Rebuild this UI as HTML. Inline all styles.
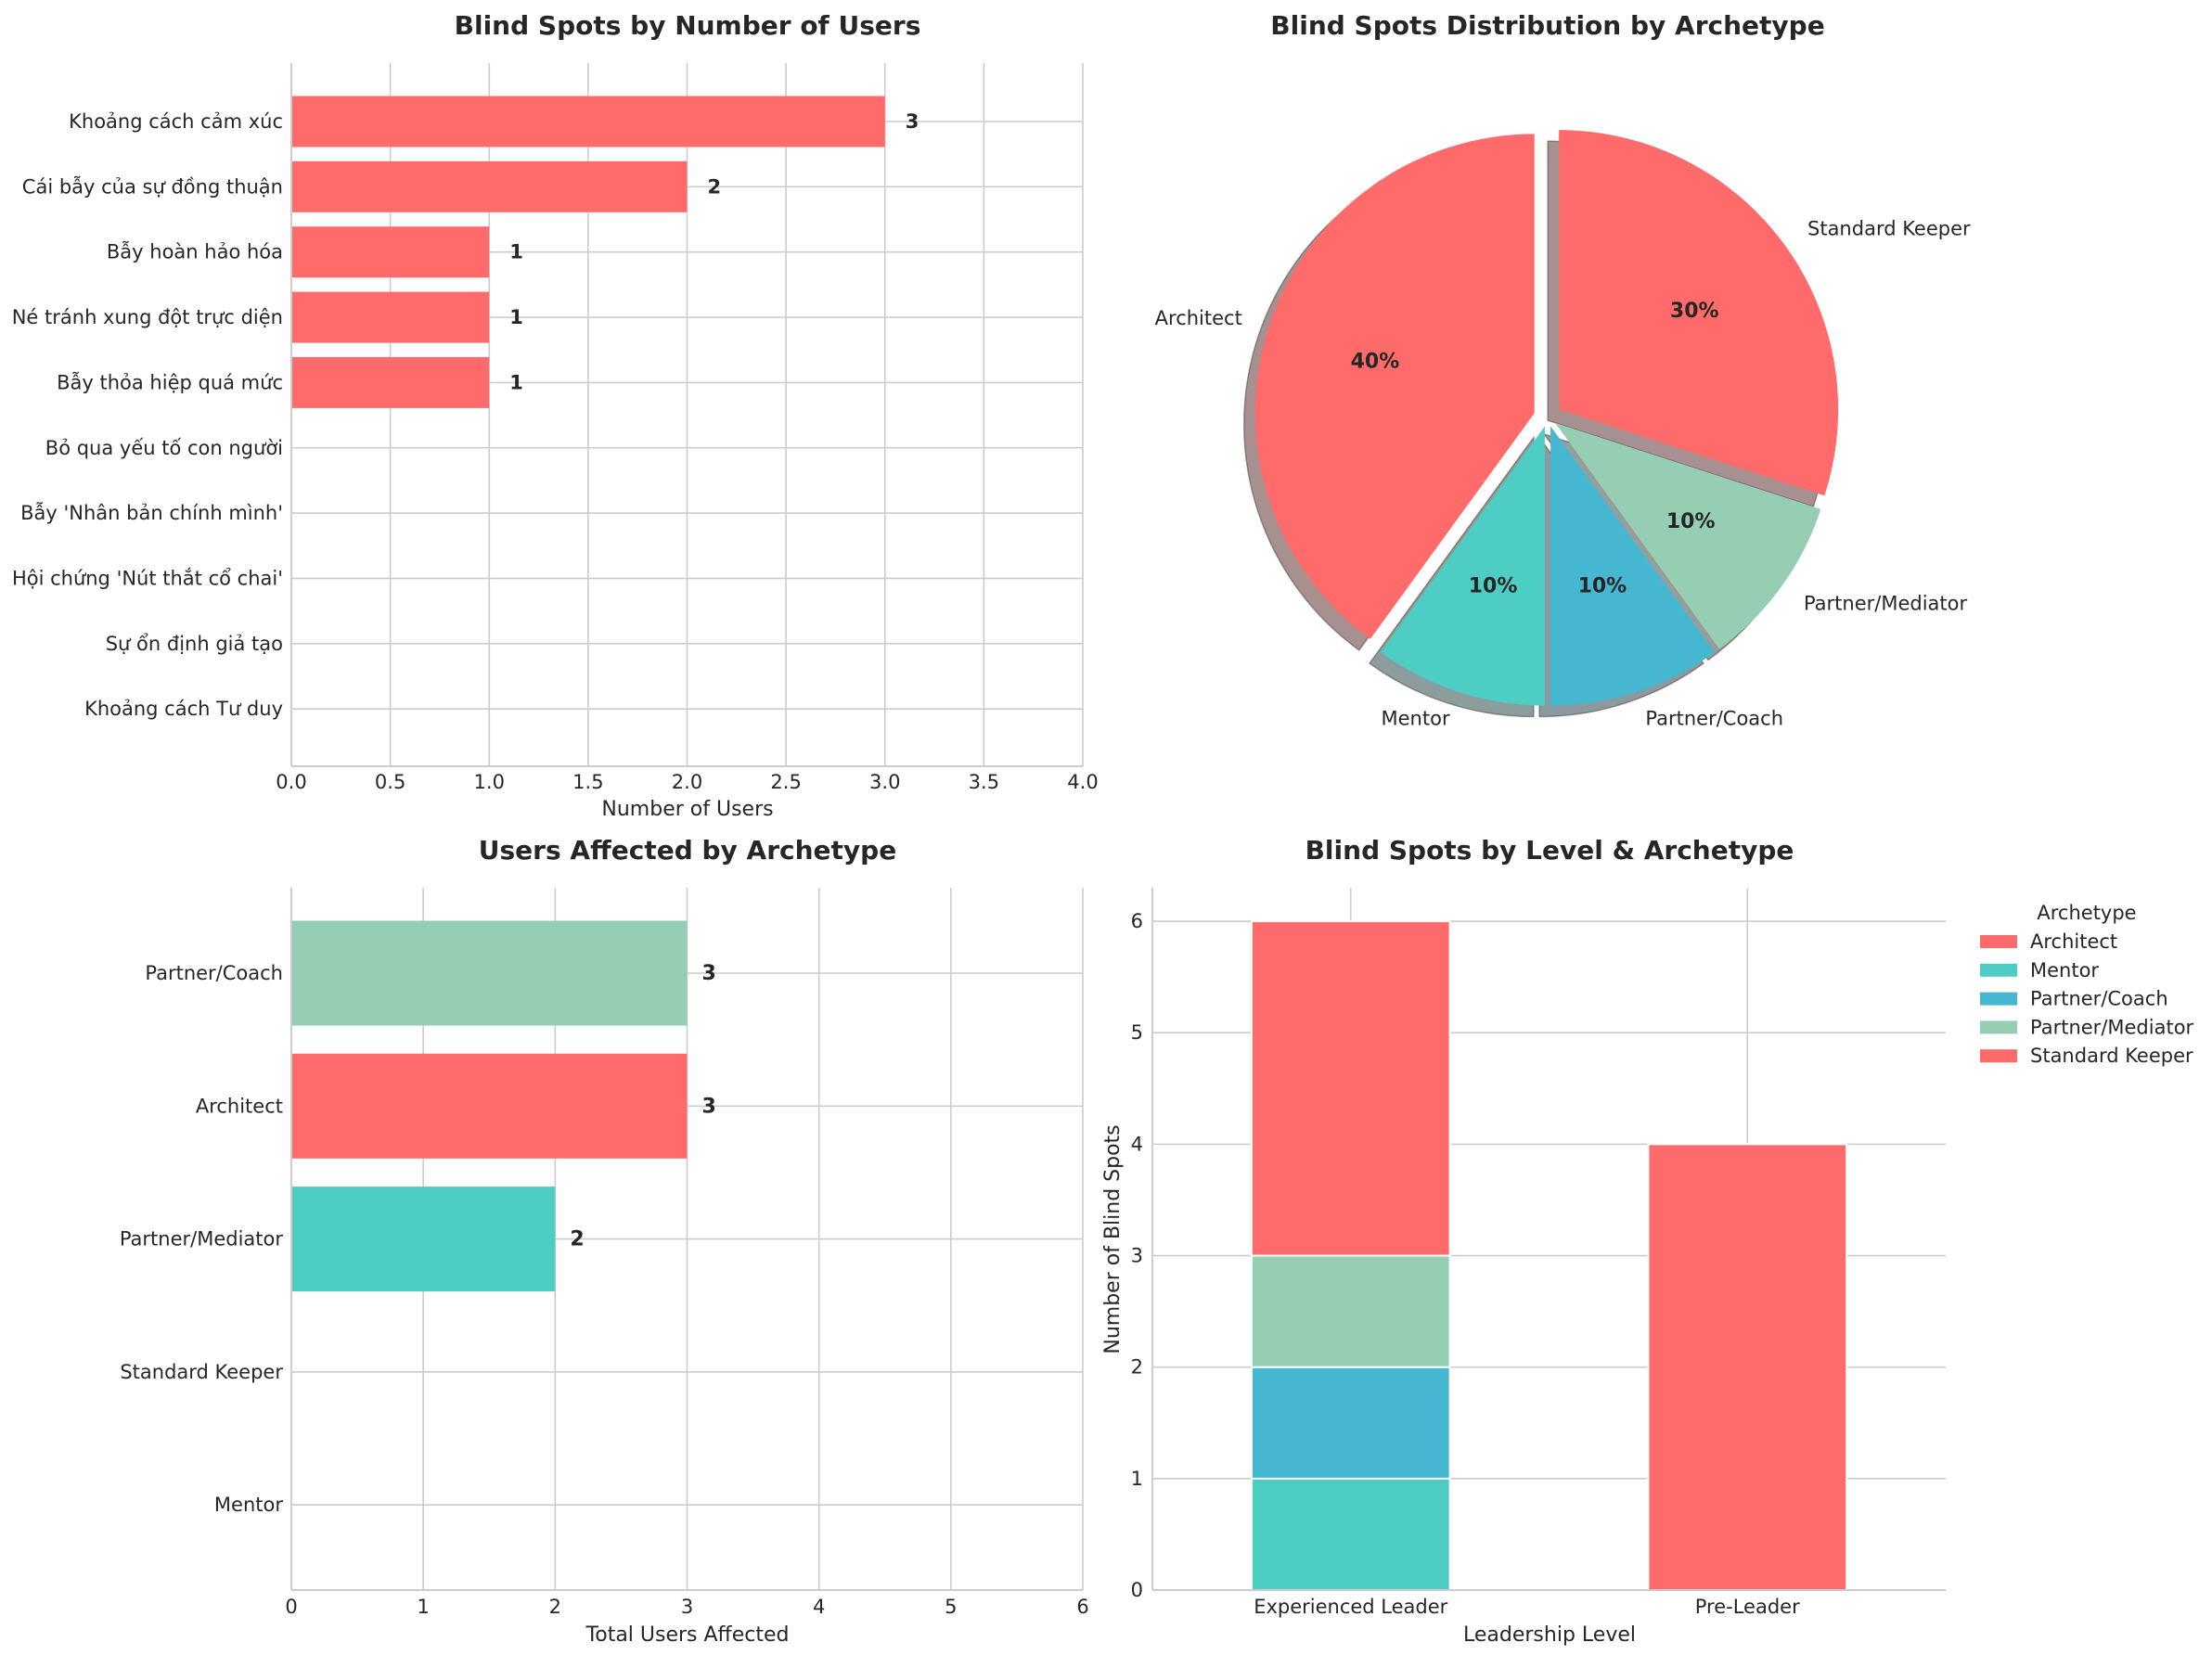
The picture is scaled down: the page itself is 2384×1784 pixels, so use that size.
<!DOCTYPE html>
<html><head><meta charset="utf-8"><style>
html,body{margin:0;padding:0;background:#fff}
svg{display:block;font-family:"DejaVu Sans","Liberation Sans","Noto Sans CJK SC",sans-serif}
</style></head><body>
<svg id="fig" width="2384" height="1784" viewBox="0 0 2384 1784" xmlns="http://www.w3.org/2000/svg"></svg>
<script>
// Chart 1 data
const c1Categories = ["Khoảng cách cảm xúc","Cái bẫy của sự đồng thuận","Bẫy hoàn hảo hóa","Né tránh xung đột trực diện","Bẫy thỏa hiệp quá mức","Bỏ qua yếu tố con người","Bẫy 'Nhân bản chính mình'","Hội chứng 'Nút thắt cổ chai'","Sự ổn định giả tạo","Khoảng cách Tư duy"];
const c1Values = [3,2,1,1,1,0,0,0,0,0];
const c1Ticks = [0,0.5,1,1.5,2,2.5,3,3.5,4];
const c1TickLabels = ["0.0","0.5","1.0","1.5","2.0","2.5","3.0","3.5","4.0"];
// Chart 2 data
const c2Labels = ["Architect","Mentor","Partner/Coach","Partner/Mediator","Standard Keeper"];
const c2Values = [40,10,10,10,30];
const c2Colors = ["#FF6B6B","#4ECDC4","#45B7D1","#96CEB4","#FF6B6B"];
const c2Explode = [15,10,10,10,15];
// Chart 3 data
const c3Categories = ["Partner/Coach","Architect","Partner/Mediator","Standard Keeper","Mentor"];
const c3Values = [3,3,2,0,0];
const c3Colors = ["#96CEB4","#FF6B6B","#4ECDC4","#45B7D1","#FF6B6B"];
const c3Ticks = [0,1,2,3,4,5,6];
// Chart 4 data
const c4Levels = ["Experienced Leader","Pre-Leader"];
const c4Series = ["Architect","Mentor","Partner/Coach","Partner/Mediator","Standard Keeper"];
const c4Colors = ["#FF6B6B","#4ECDC4","#45B7D1","#96CEB4","#FF6B6B"];
const c4Architect = [0,4];
const c4Mentor = [1,0];
const c4Coach = [1,0];
const c4Mediator = [1,0];
const c4Keeper = [3,0];
const c4Ticks = [0,1,2,3,4,5,6];

const NS="http://www.w3.org/2000/svg";
const svg=document.getElementById('fig');
const TXT="#262626", GRID="#cccccc";
const FS=21, TFS=28;
function mk(tag,attrs,parent,text){const e=document.createElementNS(NS,tag);for(const k in attrs)e.setAttribute(k,attrs[k]);if(text!==undefined)e.textContent=text;(parent||svg).appendChild(e);return e;}
function grp(name){const g=mk('g',{});return g;}

// ---------- Chart 1 ----------
(function(){
const g=grp('chart-blind-spots-by-users');
const L=314,R=1167,T=68,B=826;
const xs=v=>L+(v/4)*(R-L);
const ys=i=>131+i*70.35;
const bh=55;
const t=mk('text',{x:741,y:37,'text-anchor':'middle','font-size':TFS,'font-weight':'bold',fill:TXT},g,'Blind Spots by Number of Users');

c1Ticks.forEach((v,i)=>{mk('line',{x1:xs(v),x2:xs(v),y1:T,y2:B,stroke:GRID,'stroke-width':1.6},g);
 const tl=mk('text',{x:xs(v),y:850,'text-anchor':'middle','font-size':FS,fill:TXT},g,c1TickLabels[i]);
 });
c1Categories.forEach((c,i)=>{mk('line',{x1:L,x2:R,y1:ys(i),y2:ys(i),stroke:GRID,'stroke-width':1.6},g);
 const tl=mk('text',{x:305,y:ys(i)+7,'text-anchor':'end','font-size':FS,fill:TXT},g,c);
 });
c1Values.forEach((v,i)=>{if(v<=0)return;
 const r=mk('rect',{x:L,y:ys(i)-bh/2,width:xs(v)-L,height:bh,fill:'#FF6B6B'},g);
 
 const vl=mk('text',{x:xs(v)+22,y:ys(i)+7,'font-size':FS,'font-weight':'bold',fill:TXT},g,String(v));
 });
mk('line',{x1:L,x2:L,y1:T,y2:B,stroke:GRID,'stroke-width':2},g);
mk('line',{x1:L,x2:R,y1:B,y2:B,stroke:GRID,'stroke-width':2},g);
const xl=mk('text',{x:741,y:879,'text-anchor':'middle','font-size':22,fill:TXT},g,'Number of Users');

})();

// ---------- Chart 2 (pie) ----------
(function(){
const g=grp('chart-pie-archetype');
const cx=1668,cy=450,r=301;
const t=mk('text',{x:1668,y:37,'text-anchor':'middle','font-size':TFS,'font-weight':'bold',fill:TXT},g,'Blind Spots Distribution by Archetype');

const total=c2Values.reduce((a,b)=>a+b,0);
const wedges=[];let a0=90;
c2Values.forEach((v,i)=>{const a1=a0+v/total*360;wedges.push([a0,a1]);a0=a1;});
function path(x,y,s,e){const rad=d=>d*Math.PI/180;
 const p1=[x+r*Math.cos(rad(s)),y-r*Math.sin(rad(s))],p2=[x+r*Math.cos(rad(e)),y-r*Math.sin(rad(e))];
 const large=(e-s)>180?1:0;
 return `M${x},${y} L${p1[0]},${p1[1]} A${r},${r} 0 ${large} 0 ${p2[0]},${p2[1]} Z`;}
function shade(hex){const n=parseInt(hex.slice(1),16);const c=[n>>16,(n>>8)&255,n&255].map(v=>Math.round(0.15*v+127.5));return `rgb(${c.join(',')})`;}
const centers=wedges.map(([s,e],i)=>{const m=(s+e)/2*Math.PI/180;return [cx+c2Explode[i]*Math.cos(m),cy-c2Explode[i]*Math.sin(m),m];});
wedges.forEach(([s,e],i)=>{const [x,y]=centers[i];
 const sh=mk('path',{d:path(x-12,y+12,s,e),fill:shade(c2Colors[i]),stroke:'rgba(80,60,60,0.5)','stroke-width':1.5},g);
 });
wedges.forEach(([s,e],i)=>{const [x,y,m]=centers[i];
 const w=mk('path',{d:path(x,y,s,e),fill:c2Colors[i]},g);
 
 const lx=x+1.1*r*Math.cos(m),ly=y-1.1*r*Math.sin(m);
 const anchor=Math.cos(m)<0?'end':'start';
 const lb=mk('text',{x:lx,y:ly+7,'text-anchor':anchor,'font-size':FS,fill:TXT},g,c2Labels[i]);
 
 const px=x+0.6*r*Math.cos(m),py=y-0.6*r*Math.sin(m);
 const pl=mk('text',{x:px,y:py+7,'text-anchor':'middle','font-size':22,'font-weight':'bold',fill:TXT},g,Math.round(c2Values[i]/total*100)+'%');
 });
})();

// ---------- Chart 3 ----------
(function(){
const g=grp('chart-users-by-archetype');
const L=314,R=1167,T=957,B=1714;
const xs=v=>L+(v/6)*(R-L);
const ys=i=>1049+i*143.3;
const bh=113;
const t=mk('text',{x:741,y:926,'text-anchor':'middle','font-size':TFS,'font-weight':'bold',fill:TXT},g,'Users Affected by Archetype');

c3Ticks.forEach(v=>{mk('line',{x1:xs(v),x2:xs(v),y1:T,y2:B,stroke:GRID,'stroke-width':1.6},g);
 const tl=mk('text',{x:xs(v),y:1739,'text-anchor':'middle','font-size':FS,fill:TXT},g,String(v));
 });
c3Categories.forEach((c,i)=>{mk('line',{x1:L,x2:R,y1:ys(i),y2:ys(i),stroke:GRID,'stroke-width':1.6},g);
 const tl=mk('text',{x:305,y:ys(i)+7,'text-anchor':'end','font-size':FS,fill:TXT},g,c);
 });
c3Values.forEach((v,i)=>{if(v<=0)return;
 const r=mk('rect',{x:L,y:ys(i)-bh/2,width:xs(v)-L,height:bh,fill:c3Colors[i]},g);
 
 const vl=mk('text',{x:xs(v)+16,y:ys(i)+7,'font-size':22,'font-weight':'bold',fill:TXT},g,String(v));
 });
mk('line',{x1:L,x2:L,y1:T,y2:B,stroke:GRID,'stroke-width':2},g);
mk('line',{x1:L,x2:R,y1:B,y2:B,stroke:GRID,'stroke-width':2},g);
const xl=mk('text',{x:741,y:1769,'text-anchor':'middle','font-size':22,fill:TXT},g,'Total Users Affected');

})();

// ---------- Chart 4 ----------
(function(){
const g=grp('chart-level-archetype');
const L=1242,R=2097,T=957,B=1714;
const xs=i=>L+(i+0.5)/2*(R-L);
const ys=v=>B-v*(B-T)/6.3;
const bw=0.5*(R-L)/2;
const t=mk('text',{x:1670,y:926,'text-anchor':'middle','font-size':TFS,'font-weight':'bold',fill:TXT},g,'Blind Spots by Level & Archetype');

c4Ticks.forEach(v=>{mk('line',{x1:L,x2:R,y1:ys(v),y2:ys(v),stroke:GRID,'stroke-width':1.6},g);
 const tl=mk('text',{x:1232,y:ys(v)+7,'text-anchor':'end','font-size':FS,fill:TXT},g,String(v));
 });
c4Levels.forEach((lv,i)=>{mk('line',{x1:xs(i),x2:xs(i),y1:T,y2:B,stroke:GRID,'stroke-width':1.6},g);
 const tl=mk('text',{x:xs(i),y:1739,'text-anchor':'middle','font-size':FS,fill:TXT},g,lv);
 });
const series=[c4Architect,c4Mentor,c4Coach,c4Mediator,c4Keeper];
c4Levels.forEach((lv,i)=>{let base=0;
 series.forEach((s,k)=>{const v=s[i];if(v<=0)return;
  const r=mk('rect',{x:xs(i)-bw/2,y:ys(base+v),width:bw,height:ys(base)-ys(base+v),fill:c4Colors[k],stroke:'#fff','stroke-width':2},g);
  
  base+=v;});});
mk('line',{x1:L,x2:L,y1:T,y2:B,stroke:GRID,'stroke-width':2},g);
mk('line',{x1:L,x2:R,y1:B,y2:B,stroke:GRID,'stroke-width':2},g);
const xl=mk('text',{x:1670,y:1769,'text-anchor':'middle','font-size':22,fill:TXT},g,'Leadership Level');

const yl=mk('text',{x:0,y:0,'text-anchor':'middle','font-size':22,fill:TXT,transform:'translate(1206,1336) rotate(-90)'},g,'Number of Blind Spots');

const lg=mk('g',{},g);

const lt=mk('text',{x:2249,y:991,'text-anchor':'middle','font-size':FS,fill:TXT},lg,'Archetype');

c4Series.forEach((s,k)=>{const y=1015+k*30.8;
 const p=mk('rect',{x:2134,y:y-7,width:40,height:14,fill:c4Colors[k]},lg);
 
 const tx=mk('text',{x:2188,y:y+7,'font-size':FS,fill:TXT},lg,s);
 });
})();
</script>
</body></html>
